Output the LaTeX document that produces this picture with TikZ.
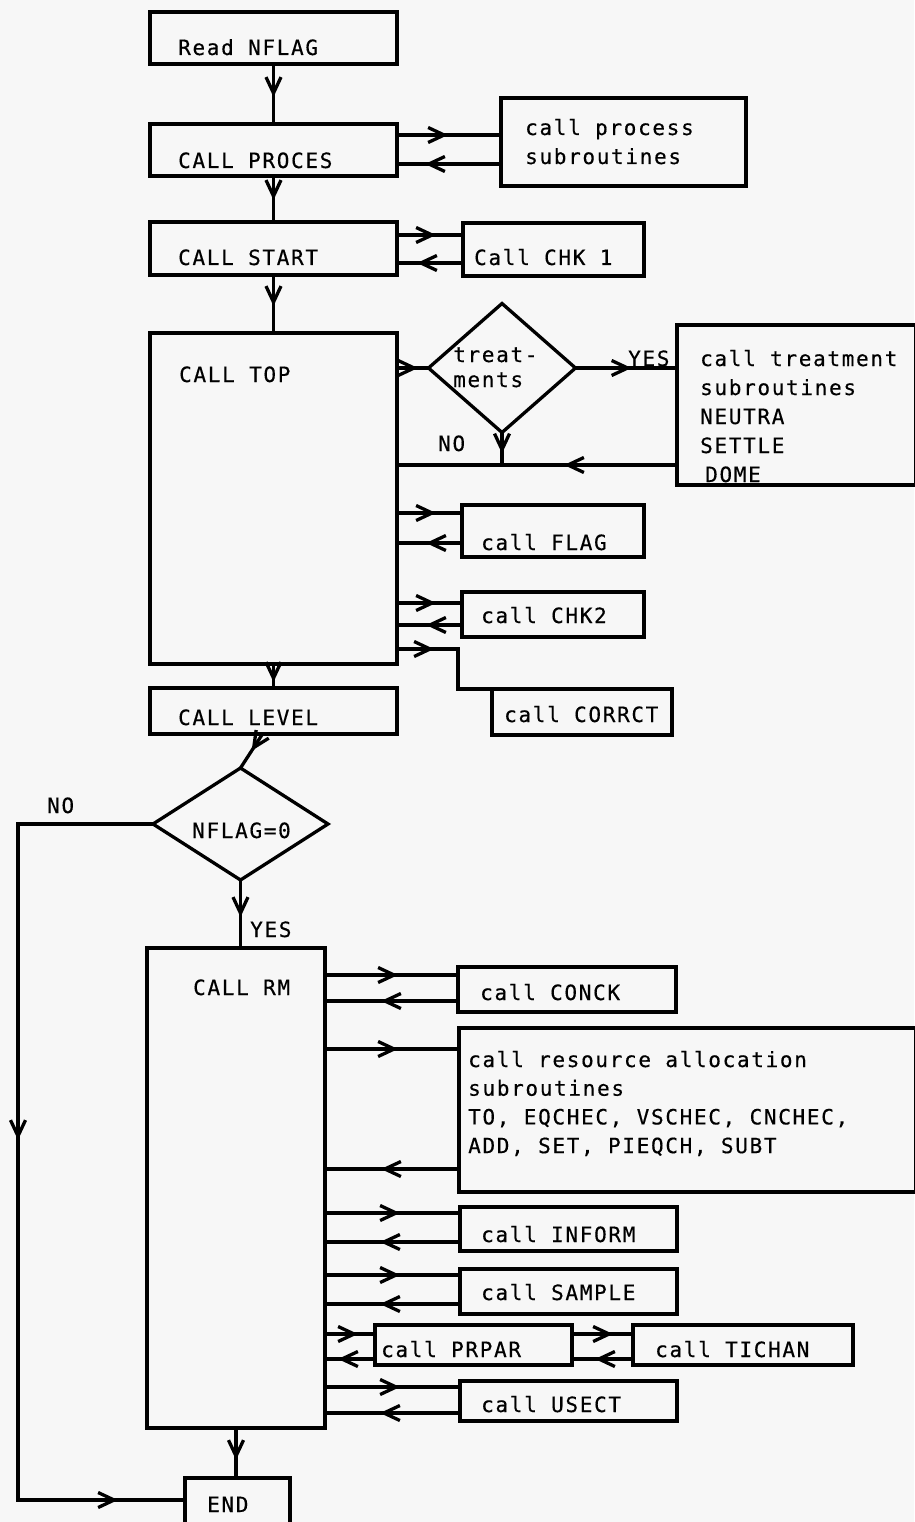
\documentclass[tikz,border=0pt]{standalone}
\usepackage{fontspec}
\setmonofont[LetterSpace=8,FakeBold=0.4]{DejaVu Sans Mono}
\usetikzlibrary{arrows.meta,decorations.markings,shapes.geometric}
\tikzset{
  vtip/.tip={Straight Barb[length=16pt,width=15pt]},
  line/.style={line width=3.3pt},
  box/.style={draw,rectangle,line width=3.3pt,anchor=north west,inner sep=0pt,outer sep=0pt},
  dia/.style={draw,diamond,line width=3.3pt,inner sep=0pt,outer sep=0pt},
  txt/.style={font=\ttfamily\fontsize{21}{28}\selectfont,anchor=base west,inner sep=0pt},
  arr/.style={postaction={decorate},decoration={markings,mark=at position #1 with {\arrow{vtip}}}},
  arrtwo/.style 2 args={postaction={decorate},decoration={markings,
    mark=at position #1 with {\arrow{vtip}},mark=at position #2 with {\arrow{vtip}}}}
}

\begin{document}
\begin{tikzpicture}[x=1pt,y=-1pt]
\useasboundingbox (0,0) rectangle (914,1522);
\fill[black!3] (0,0) rectangle (914,1522);
% main column
\node[box,minimum width=247pt,minimum height=52pt] (read) at (150,12) {};
\node[box,minimum width=247pt,minimum height=52pt] (proces) at (150,124) {};
\node[box,minimum width=247pt,minimum height=53pt] (start) at (150,222) {};
\node[box,minimum width=247pt,minimum height=331pt] (top) at (150,333) {};
\node[box,minimum width=247pt,minimum height=46pt] (level) at (150,688) {};
\node[dia,minimum width=175pt,minimum height=112pt] (nflag) at (240.5,824) {};
\node[box,minimum width=178pt,minimum height=480pt] (rm) at (147,948) {};
\node[box,minimum width=105pt,minimum height=50pt] (stop) at (185,1478) {};
% side boxes
\node[box,minimum width=245pt,minimum height=88pt] (procsub) at (501,98) {};
\node[box,minimum width=181pt,minimum height=53pt] (chkone) at (463,223) {};
\node[dia,minimum width=147pt,minimum height=129pt] (treat) at (502,368) {};
\node[box,minimum width=239pt,minimum height=160pt] (treatsub) at (677,325) {};
\node[box,minimum width=182pt,minimum height=52pt] (flag) at (462,505) {};
\node[box,minimum width=182pt,minimum height=45pt] (chktwo) at (462,592) {};
\node[box,minimum width=180pt,minimum height=46pt] (corrct) at (492,689) {};
\node[box,minimum width=218pt,minimum height=45pt] (conck) at (458,967) {};
\node[box,minimum width=457pt,minimum height=164pt] (alloc) at (459,1028) {};
\node[box,minimum width=217pt,minimum height=44pt] (inform) at (460,1207) {};
\node[box,minimum width=217pt,minimum height=45pt] (sample) at (460,1269) {};
\node[box,minimum width=197pt,minimum height=40pt] (prpar) at (375,1325) {};
\node[box,minimum width=220pt,minimum height=40pt] (tichan) at (633,1325) {};
\node[box,minimum width=217pt,minimum height=40pt] (usect) at (460,1381) {};
% texts
\node[txt] (read-t) at (178,55) {Read NFLAG};
\node[txt] (proces-t) at (178,168) {CALL PROCES};
\foreach \l [count=\i from 0] in {call process,subroutines}
  \node[txt] (procsub-\i) at (525,135+29*\i) {\l};
\node[txt] (start-t) at (178,265) {CALL START};
\node[txt] (chkone-t) at (474,265) {Call CHK 1};
\node[txt] (top-t) at (179,382) {CALL TOP};
\foreach \l [count=\i from 0] in {treat-,ments}
  \node[txt] (treat-\i) at (453,362+25*\i) {\l};
\foreach \l [count=\i from 0] in {call treatment,subroutines,NEUTRA,SETTLE}
  \node[txt] (treatsub-\i) at (700,366+29*\i) {\l};
\node[txt] (treatsub-4) at (705,482) {DOME};
\node[txt] (flag-t) at (481,550) {call FLAG};
\node[txt] (chktwo-t) at (481,623) {call CHK2};
\node[txt] (corrct-t) at (504,722) {call CORRCT};
\node[txt] (level-t) at (178,725) {CALL LEVEL};
\node[txt] (nflag-t) at (192,838) {NFLAG=0};
\node[txt] (rm-t) at (193,995) {CALL RM};
\node[txt] (conck-t) at (480,1000) {call CONCK};
\foreach \l [count=\i from 0] in {call resource allocation,subroutines,{TO, EQCHEC, VSCHEC, CNCHEC,},{ADD, SET, PIEQCH, SUBT}}
  \node[txt] (alloc-\i) at (468,1067+28.7*\i) {\l};
\node[txt] (inform-t) at (481,1242) {call INFORM};
\node[txt] (sample-t) at (481,1300) {call SAMPLE};
\node[txt] (prpar-t) at (381,1357) {call PRPAR};
\node[txt] (tichan-t) at (655,1357) {call TICHAN};
\node[txt] (usect-t) at (481,1412) {call USECT};
\node[txt] (stop-t) at (207,1512) {END};
\node[txt] (yes-a) at (628,366) {YES};
\node[txt] (no-a) at (438,451) {NO};
\node[txt] (no-b) at (47,813) {NO};
\node[txt] (yes-b) at (250,937) {YES};
% flow down
\draw[line,arr=33pt] (read.south) -- (proces.north);
\draw[line,arr=24pt] (proces.south) -- (start.north);
\draw[line,arr=31pt] (start.south) -- (top.north);
\draw[line,arr=18pt] (top.south) -- (level.north);
\draw[line,arr=20pt] ([xshift=-11pt]level.south) -- (nflag.north);
\draw[line,arr=37pt] (nflag.south) -- (nflag.south |- rm.north);
\draw[line,arr=32pt] (rm.south) -- (rm.south |- stop.north);
\coordinate (nobend) at (18,1500);
\draw[line,arrtwo={451pt}{911pt}] (nflag.west) -| (nobend) -- (nobend -| stop.west);
% calls and returns
\draw[line,arr=51pt] (proces.east |- 0,135) -- (procsub.west |- 0,135);
\draw[line,arr=-28pt] (procsub.west |- 0,164) -- (proces.east |- 0,164);
\draw[line,arr=39pt] (start.east |- 0,235) -- (chkone.west |- 0,235);
\draw[line,arr=-20pt] (chkone.west |- 0,263) -- (start.east |- 0,263);
\draw[line,arr=21pt] (top.east |- treat.west) -- (treat.west);
\draw[line,arr=56pt] (treat.east) -- (treat.east -| treatsub.west);
\draw[line,arr=113pt] (treatsub.west |- 0,465) -- (top.east |- 0,465);
\draw[line,arr=21pt] (treat.south) -- (treat.south |- 0,465);
\draw[line,arr=39pt] (top.east |- 0,513) -- (flag.west |- 0,513);
\draw[line,arr=-29pt] (flag.west |- 0,543) -- (top.east |- 0,543);
\draw[line,arr=39pt] (top.east |- 0,603) -- (chktwo.west |- 0,603);
\draw[line,arr=-29pt] (chktwo.west |- 0,625) -- (top.east |- 0,625);
\draw[line,arr=37pt] (top.east |- 0,649) -| ([xshift=-34pt]corrct.north west) -- (corrct.north west);
\draw[line,arr=73pt] (rm.east |- 0,975) -- (conck.west |- 0,975);
\draw[line,arr=-56pt] (conck.west |- 0,1001) -- (rm.east |- 0,1001);
\draw[line,arr=73pt] (rm.east |- 0,1049) -- (alloc.west |- 0,1049);
\draw[line,arr=-56pt] (alloc.west |- 0,1169) -- (rm.east |- 0,1169);
\draw[line,arr=75pt] (rm.east |- 0,1213) -- (inform.west |- 0,1213);
\draw[line,arr=-55pt] (inform.west |- 0,1242) -- (rm.east |- 0,1242);
\draw[line,arr=75pt] (rm.east |- 0,1275) -- (sample.west |- 0,1275);
\draw[line,arr=-55pt] (sample.west |- 0,1304) -- (rm.east |- 0,1304);
\draw[line,arr=33pt] (rm.east |- 0,1334) -- (prpar.west |- 0,1334);
\draw[line,arr=-13pt] (prpar.west |- 0,1359) -- (rm.east |- 0,1359);
\draw[line,arr=41pt] (prpar.east |- 0,1334) -- (tichan.west |- 0,1334);
\draw[line,arr=-23pt] (tichan.west |- 0,1359) -- (prpar.east |- 0,1359);
\draw[line,arr=75pt] (rm.east |- 0,1387) -- (usect.west |- 0,1387);
\draw[line,arr=-55pt] (usect.west |- 0,1413) -- (rm.east |- 0,1413);
\end{tikzpicture}
\end{document}
